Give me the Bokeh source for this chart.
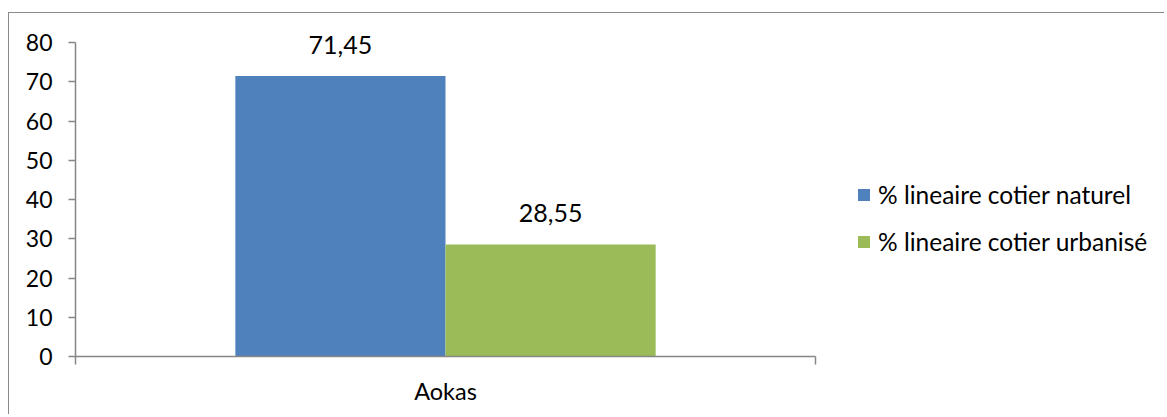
from bokeh.plotting import figure
from bokeh.models import (Range1d, FixedTicker, LinearAxis, Legend, LegendItem,
                          ColumnDataSource)
from bokeh.core.properties import value
from bokeh.embed import file_html
from bokeh.resources import INLINE

categories = ["Aokas"]
series_names = ["% lineaire cotier naturel", "% lineaire cotier urbanisé"]
naturel = [71.45]
urbanise = [28.55]
y_ticks = [0, 10, 20, 30, 40, 50, 60, 70, 80]
colors = ["#4F81BD", "#9BBB59"]

FONT = "Lato"
AXIS_GRAY = "#868686"

W, H = 1156, 402
B_LEFT, B_RIGHT, B_TOP, B_BOTTOM = 66, 5, 5, 59
PLOT_AREA_W = 740  # pixel width of the category plot area
PLOT_AREA_H = 314  # pixel height of the value axis (0..80)
Y_MAX = 80
frame_w = W - B_LEFT - B_RIGHT
frame_h = H - B_TOP - B_BOTTOM
x_end = len(categories) * frame_w / PLOT_AREA_W
y_end = Y_MAX * frame_h / PLOT_AREA_H

p = figure(width=W, height=H, output_backend="svg", toolbar_location=None,
           x_range=Range1d(0, x_end), y_range=Range1d(0, y_end),
           x_axis_type=None, y_axis_type=None,
           min_border_left=B_LEFT, min_border_right=B_RIGHT, min_border_top=B_TOP,
           min_border_bottom=B_BOTTOM)
p.outline_line_color = None
p.xgrid.visible = False
p.ygrid.visible = False
p.background_fill_color = "white"
p.border_fill_color = "white"
p.styles = {"margin-left": "8px", "margin-top": "12px",
            "border-top": "1px solid #8a8a8a", "border-left": "1px solid #8a8a8a"}

# y axis
yax = LinearAxis(ticker=FixedTicker(ticks=y_ticks, minor_ticks=[]), bounds=(0, Y_MAX))
yax.axis_line_color = AXIS_GRAY
yax.axis_line_width = 1.5
yax.major_tick_line_color = AXIS_GRAY
yax.major_tick_line_width = 1.5
yax.major_tick_out = 7
yax.major_tick_in = 0
yax.major_label_standoff = 16
yax.major_label_text_font = FONT
yax.major_label_text_font_size = "23px"
yax.major_label_text_color = "black"
p.add_layout(yax, "left")

# x axis: category label at centre, ticks at category boundaries
centers = [i + 0.5 for i in range(len(categories))]
bounds = [float(i) for i in range(len(categories) + 1)]
xax = LinearAxis(ticker=FixedTicker(ticks=centers, minor_ticks=bounds),
                 bounds=(0, len(categories)))
xax.major_label_overrides = {c: cat for c, cat in zip(centers, categories)}
xax.axis_line_color = AXIS_GRAY
xax.axis_line_width = 1.5
xax.major_tick_line_color = None
xax.major_tick_out = 0
xax.major_tick_in = 0
xax.minor_tick_line_color = AXIS_GRAY
xax.minor_tick_line_width = 1.5
xax.minor_tick_out = 8
xax.minor_tick_in = 0
xax.major_label_standoff = 12
xax.major_label_text_font = FONT
xax.major_label_text_font_size = "23.5px"
xax.major_label_text_color = "black"
p.add_layout(xax, "below")

bar_w = 0.284
items = []
for j, (vals, name, col) in enumerate(zip([naturel, urbanise], series_names, colors)):
    xs = [c + (j - 0.5) * bar_w for c in centers]
    src = ColumnDataSource(dict(x=xs, top=vals,
                                label=[f"{v:.2f}".replace(".", ",") for v in vals]))
    r = p.vbar(x="x", top="top", bottom=0, width=bar_w, source=src,
               fill_color=col, line_color=None)
    p.text(x="x", y="top", text="label", source=src, text_align="center",
           text_baseline="alphabetic", y_offset=-31, text_font=value(FONT),
           text_font_size="25px", text_color="black")
    items.append(LegendItem(label=name, renderers=[r]))

legend = Legend(items=items, location=(781, 100 + (frame_h - PLOT_AREA_H) * 0),
                orientation="vertical")
legend.border_line_color = None
legend.background_fill_alpha = 0
legend.padding = 0
legend.margin = 0
legend.glyph_width = 15
legend.glyph_height = 15
legend.label_height = 20
legend.spacing = 18
legend.label_standoff = 7
legend.label_text_font = FONT
legend.label_text_font_size = "24.5px"
legend.label_text_color = "black"
p.add_layout(legend, "center")

open("out.html", "w").write(file_html(p, INLINE))
